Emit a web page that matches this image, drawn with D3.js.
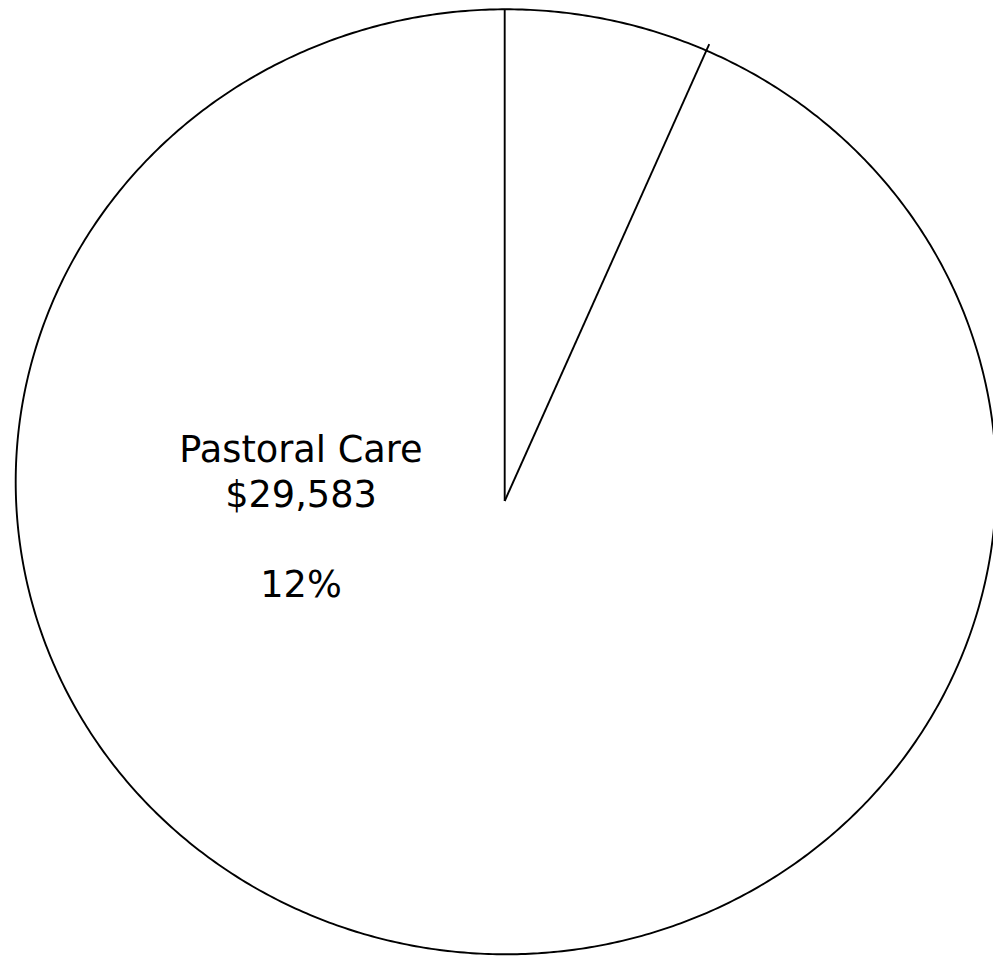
<!DOCTYPE html>
<html>
<head>
<meta charset="utf-8">
<script src="https://cdn.jsdelivr.net/npm/d3@7"></script>
<style>
  html, body { margin: 0; padding: 0; background: #ffffff; }
  svg { display: block; }
</style>
</head>
<body>
<svg id="chart" width="993" height="956"></svg>
<script>
// ---- data ----
const categories = ["Slice A", "Slice B"];
const sliceShares = [6.7, 93.3];            // percent of the pie, estimated from angles
const labelLines = ["Pastoral Care", "$29,583", "", "12%"];

// ---- layout ----
const W = 993, H = 956;
const svg = d3.select("#chart");
svg.append("rect").attr("width", W).attr("height", H).attr("fill", "#ffffff");

// outline (slightly elliptical in the reference) and the separate slice vertex
const cx = 506, cy = 481.8, rx = 490.3, ry = 472.5;
const vx = 504.7, vy = 501;
const SW = 1.9;

const pie = d3.pie().sort(null).value(d => d.v)
  .startAngle(0).endAngle(2 * Math.PI);
const arcsData = pie(categories.map((c, i) => ({ c, v: sliceShares[i] })));

const line = d3.line().x(d => d[0]).y(d => d[1]);

function ellipsePt(a) { return [cx + rx * Math.sin(a), cy - ry * Math.cos(a)]; }

// outer arcs of each slice
const g = svg.append("g");
g.selectAll("path.outer")
  .data(arcsData)
  .join("path")
  .attr("class", "outer")
  .attr("fill", "none")
  .attr("stroke", "#000")
  .attr("stroke-width", SW)
  .attr("d", d => {
    const n = Math.max(8, Math.ceil((d.endAngle - d.startAngle) * 120));
    const pts = d3.range(n + 1).map(k => ellipsePt(d.startAngle + (d.endAngle - d.startAngle) * k / n));
    return line(pts);
  });

// radial boundary lines from the vertex to the outline
function rayLen(a) {
  const s = Math.sin(a), c = -Math.cos(a);
  const px = vx - cx, py = vy - cy;
  const A = (s * s) / (rx * rx) + (c * c) / (ry * ry);
  const B = 2 * (px * s / (rx * rx) + py * c / (ry * ry));
  const C = (px * px) / (rx * rx) + (py * py) / (ry * ry) - 1;
  return (-B + Math.sqrt(B * B - 4 * A * C)) / (2 * A);
}
g.selectAll("path.radial")
  .data(arcsData)
  .join("path")
  .attr("class", "radial")
  .attr("fill", "none")
  .attr("stroke", "#000")
  .attr("stroke-width", SW)
  .attr("d", d => {
    const a = d.startAngle;
    const t = rayLen(a) + (a > 0 ? 7 : 0);
    return line([[vx, vy], [vx + t * Math.sin(a), vy - t * Math.cos(a)]]);
  });

// label
const label = svg.append("text")
  .attr("x", 301)
  .attr("y", 461.7)
  .attr("text-anchor", "middle")
  .attr("font-family", "'DejaVu Sans', Verdana, sans-serif")
  .attr("font-size", 36.7)
  .attr("fill", "#000");
label.selectAll("tspan")
  .data(labelLines)
  .join("tspan")
  .attr("x", 301)
  .attr("dy", (d, i) => i === 0 ? 0 : 45)
  .text(d => d === "" ? "\u00A0" : d);
</script>
</body>
</html>
